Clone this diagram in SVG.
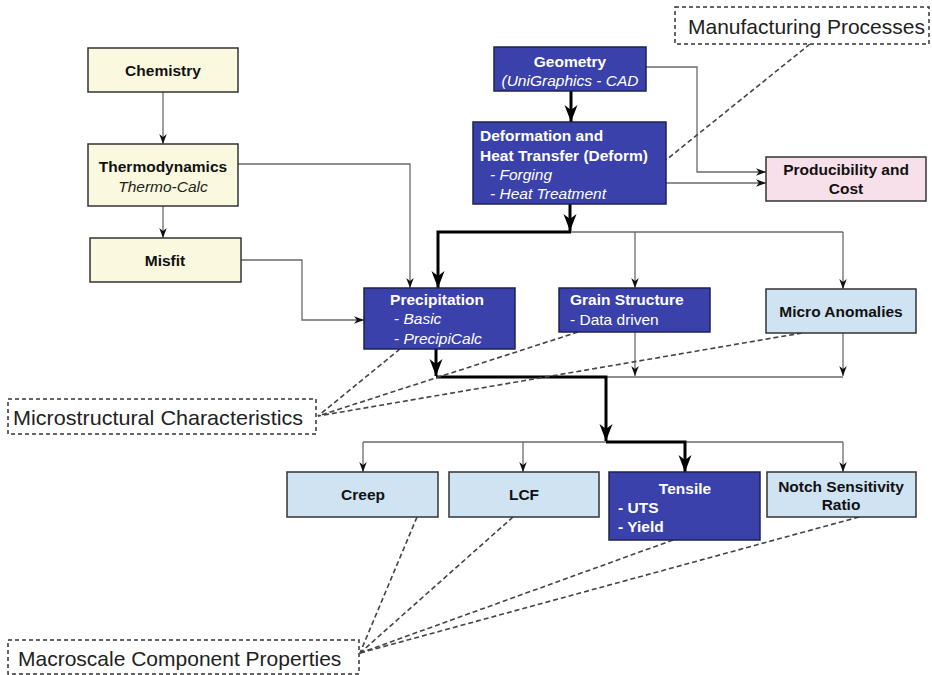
<svg xmlns="http://www.w3.org/2000/svg" width="932" height="675" viewBox="0 0 932 675">
<defs>
<marker id="aThin" markerUnits="userSpaceOnUse" markerWidth="10" markerHeight="12" viewBox="0 0 12 10" refX="12" refY="5" orient="auto">
<path d="M0,0.5 L12,5 L0,9.5 L3.5,5 z" fill="#111"/>
</marker>
<marker id="aThick" markerUnits="userSpaceOnUse" markerWidth="17" markerHeight="14" viewBox="0 0 17 14" refX="17" refY="7" orient="auto">
<path d="M0,0.5 L17,7 L0,13.5 L5,7 z" fill="#000"/>
</marker>
<style>
.cream{fill:#fbf8e0;stroke:#333;stroke-width:1.5}
.blue{fill:#3a41aa;stroke:#1e2250;stroke-width:1.5}
.lblue{fill:#cfe3f3;stroke:#333;stroke-width:1.5}
.pink{fill:#f8e0ea;stroke:#333;stroke-width:1.5}
.dbox{fill:#fff;stroke:#333;stroke-width:1.5;stroke-dasharray:4 3}
.b{font-family:"Liberation Sans",Arial,sans-serif;font-weight:bold;font-size:15.5px;fill:#111}
.bw{font-family:"Liberation Sans",Arial,sans-serif;font-weight:bold;font-size:15.5px;fill:#fff}
.iw{font-family:"Liberation Sans",Arial,sans-serif;font-style:italic;font-size:15.5px;fill:#fff}
.rw{font-family:"Liberation Sans",Arial,sans-serif;font-size:15.5px;fill:#fff}
.i{font-family:"Liberation Sans",Arial,sans-serif;font-style:italic;font-size:15.5px;fill:#222}
.big{font-family:"Liberation Sans",Arial,sans-serif;font-size:21px;fill:#222}
.thin{fill:none;stroke:#6a6a6a;stroke-width:1.3}
.thinA{fill:none;stroke:#6a6a6a;stroke-width:1.3;marker-end:url(#aThin)}
.thick{fill:none;stroke:#000;stroke-width:3}
.thickA{fill:none;stroke:#000;stroke-width:3;marker-end:url(#aThick)}
.dash{fill:none;stroke:#444;stroke-width:1.6;stroke-dasharray:5 3}
</style>
</defs>
<rect width="932" height="675" fill="#fff"/>

<g id="connectors">
<path class="thinA" d="M163,92 V144"/>
<path class="thinA" d="M163,206 V238"/>
<path class="thinA" d="M238,164 H410 V288"/>
<path class="thinA" d="M241,260 H302 V320 H364"/>
<path class="thickA" d="M571,91 V122"/>
<path class="thinA" d="M646,67 H697 V172 H766"/>
<path class="thinA" d="M666,183 H766"/>
<path class="thickA" d="M570,204 V231"/>
<path class="thin" d="M570,232 H843"/>
<path class="thickA" d="M571,232 H438 V288"/>
<path class="thinA" d="M635,232 V288"/>
<path class="thinA" d="M843,232 V289"/>
<path class="thickA" d="M436,349 V376"/>
<path class="thinA" d="M635,332 V376"/>
<path class="thinA" d="M843,333 V376"/>
<path class="thin" d="M606,377 H843"/>
<path class="thickA" d="M436,377 H606 V441"/>
<path class="thin" d="M363,442 H843"/>
<path class="thickA" d="M606,442 H685 V472"/>
<path class="thinA" d="M363,442 V472"/>
<path class="thinA" d="M523,442 V472"/>
<path class="thinA" d="M843,442 V472"/>
<path class="dash" d="M810,44 L666,160"/>
<path class="dash" d="M400,349 L318,416"/>
<path class="dash" d="M578,332 L318,416"/>
<path class="dash" d="M802,333 L318,416"/>
<path class="dash" d="M417,517 L360,653"/>
<path class="dash" d="M513,517 L360,653"/>
<path class="dash" d="M673,540 L360,653"/>
<path class="dash" d="M859,517 L360,653"/>
</g>

<g id="manufacturing">
<rect class="dbox" x="675" y="7" width="254" height="37"/>
<text class="big" x="688" y="34">Manufacturing Processes</text>
</g>
<g id="chemistry">
<rect class="cream" x="88" y="48" width="150" height="44"/>
<text class="b" x="163" y="76" text-anchor="middle">Chemistry</text>
</g>
<g id="thermodynamics">
<rect class="cream" x="88" y="144" width="150" height="62"/>
<text class="b" x="163" y="172" text-anchor="middle">Thermodynamics</text>
<text class="i" x="163" y="192" text-anchor="middle">Thermo-Calc</text>
</g>
<g id="misfit">
<rect class="cream" x="90" y="238" width="151" height="44"/>
<text class="b" x="165" y="266" text-anchor="middle">Misfit</text>
</g>
<g id="geometry">
<rect class="blue" x="494" y="47" width="152" height="44"/>
<text class="bw" x="570" y="67" text-anchor="middle">Geometry</text>
<text class="iw" x="570" y="86" text-anchor="middle">(UniGraphics - CAD</text>
</g>
<g id="deformation">
<rect class="blue" x="473" y="122" width="193" height="82"/>
<text class="bw" x="480" y="141">Deformation and</text>
<text class="bw" x="480" y="161">Heat Transfer (Deform)</text>
<text class="iw" x="490" y="180">- Forging</text>
<text class="iw" x="490" y="199">- Heat Treatment</text>
</g>
<g id="producibility">
<rect class="pink" x="766" y="157" width="160" height="44"/>
<text class="b" x="846" y="175" text-anchor="middle">Producibility and</text>
<text class="b" x="846" y="194" text-anchor="middle">Cost</text>
</g>
<g id="precipitation">
<rect class="blue" x="364" y="288" width="151" height="61"/>
<text class="bw" x="437" y="305" text-anchor="middle">Precipitation</text>
<text class="rw" x="394" y="324">- <tspan font-style="italic">Basic</tspan></text>
<text class="rw" x="394" y="344">- <tspan font-style="italic">PrecipiCalc</tspan></text>
</g>
<g id="grain">
<rect class="blue" x="559" y="288" width="151" height="44"/>
<text class="bw" x="570" y="305">Grain Structure</text>
<text class="rw" x="570" y="325">- Data driven</text>
</g>
<g id="micro">
<rect class="lblue" x="766" y="289" width="150" height="44"/>
<text class="b" x="841" y="317" text-anchor="middle">Micro Anomalies</text>
</g>
<g id="microstructural">
<rect class="dbox" x="8" y="399" width="308" height="35"/>
<text class="big" x="13" y="425" textLength="290" lengthAdjust="spacingAndGlyphs">Microstructural Characteristics</text>
</g>
<g id="creep">
<rect class="lblue" x="287" y="472" width="151" height="45"/>
<text class="b" x="363" y="500" text-anchor="middle">Creep</text>
</g>
<g id="lcf">
<rect class="lblue" x="449" y="472" width="150" height="45"/>
<text class="b" x="524" y="500" text-anchor="middle">LCF</text>
</g>
<g id="tensile">
<rect class="blue" x="609" y="472" width="151" height="68"/>
<text class="bw" x="685" y="494" text-anchor="middle">Tensile</text>
<text class="bw" x="618" y="513">- UTS</text>
<text class="bw" x="618" y="532">- Yield</text>
</g>
<g id="notch">
<rect class="lblue" x="767" y="472" width="149" height="45"/>
<text class="b" x="841" y="492" text-anchor="middle">Notch Sensitivity</text>
<text class="b" x="841" y="510" text-anchor="middle">Ratio</text>
</g>
<g id="macroscale">
<rect class="dbox" x="8" y="640" width="351" height="34"/>
<text class="big" x="18" y="666">Macroscale Component Properties</text>
</g>
</svg>
